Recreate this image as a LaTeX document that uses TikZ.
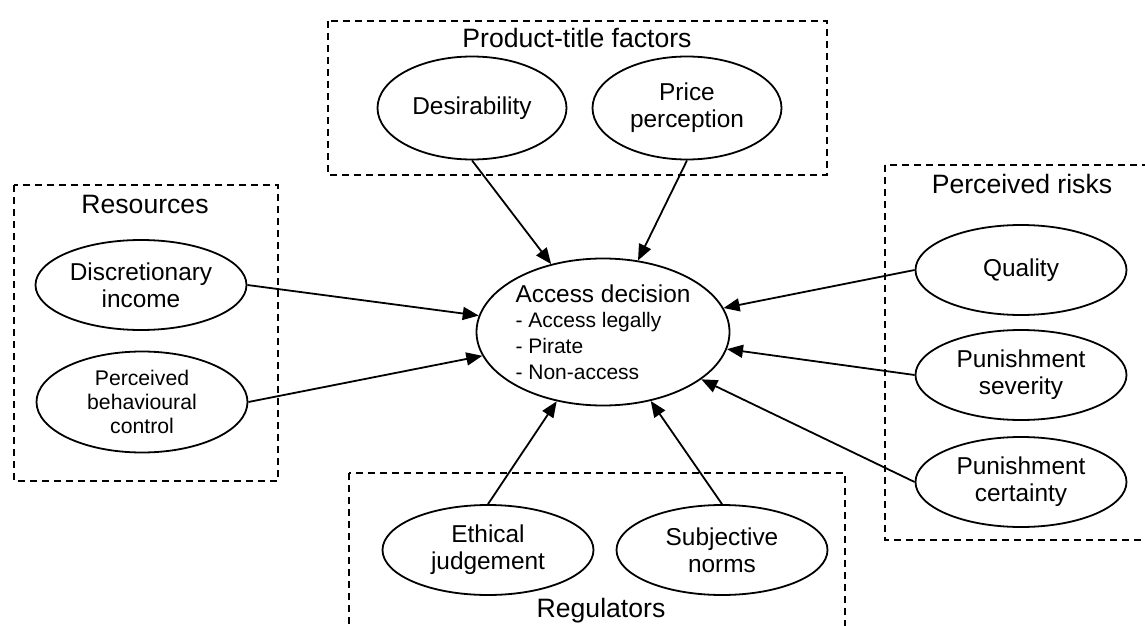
\documentclass[tikz,border=0pt]{standalone}
\usepackage{fontspec}
\setmainfont{Liberation Sans}
\usetikzlibrary{shapes.geometric,arrows.meta}

\begin{document}
\begin{tikzpicture}[x=0.5pt,y=-0.5pt,
	factor/.style={ellipse, draw, line width=0.9pt, inner sep=0pt, minimum width=105.5pt, minimum height=45pt, align=center, font=\fontsize{12.2}{13.4}\selectfont},
	group/.style={draw, line width=0.8pt, dash pattern=on 3.5pt off 2.5pt},
	grouptitle/.style={font=\fontsize{13.3}{15}\selectfont},
	effect/.style={line width=0.9pt, -{Triangle[length=8pt,width=6.5pt]}}]
	\useasboundingbox (0,0) rectangle (1145,626);
	\clip (0,0) rectangle (1145,626);
	% groups
	\draw[group] (328,21) rectangle (827,175);
	\draw[group] (14,185) rectangle (278,481);
	\draw[group] (885,165) rectangle (1170,540);
	\draw[group] (349,473) rectangle (845,650);
	\node (TP) at (577, 38)	[grouptitle]	{Product-title factors};
	\node (TR) at (145,204)	[grouptitle]	{Resources};
	\node (TK) at (1022,184)	[grouptitle]	{Perceived risks};
	\node (TG) at (601,611)	[grouptitle]	{Regulators};
	% factors
	\node (D)  at (472,108)	[factor, minimum width=94.5pt, minimum height=51.5pt]	{Desirability};
	\node (P)  at (687,108)	[factor, minimum width=94.5pt, minimum height=51.5pt]	{Price\\perception};
	\node (I)  at (141,285)	[factor]	{Discretionary\\income};
	\node (B)  at (142,402)	[factor, minimum height=50.5pt, font=\fontsize{10.6}{12}\selectfont]	{Perceived\\behavioural\\control};
	\node (Q)  at (1021,270)	[factor]	{Quality};
	\node (S)  at (1021,375)	[factor]	{Punishment\\severity};
	\node (C)  at (1021,482)	[factor]	{Punishment\\certainty};
	\node (E)  at (488,550)	[factor]	{Ethical\\judgement};
	\node (N)  at (722,550)	[factor]	{Subjective\\norms};
	\node (A)  at (603,332)	[factor, minimum width=126.5pt, minimum height=73.5pt, align=left, font=\fontsize{10.5}{12.8}\selectfont]
		{{\fontsize{12.2}{12.8}\selectfont Access decision}\\- Access legally\\- Pirate\\- Non-access};
	% effects
	\draw[effect] (D.south) -- (A);
	\draw[effect] (P.south) -- (A);
	\draw[effect] (I.east) -- (A);
	\draw[effect] (B.east) -- (A);
	\draw[effect] (Q.west) -- (A);
	\draw[effect] (S.west) -- (A);
	\draw[effect] (C.west) -- (A);
	\draw[effect] (E.north) -- (A);
	\draw[effect] (N.north) -- (A);
\end{tikzpicture}
\end{document}
